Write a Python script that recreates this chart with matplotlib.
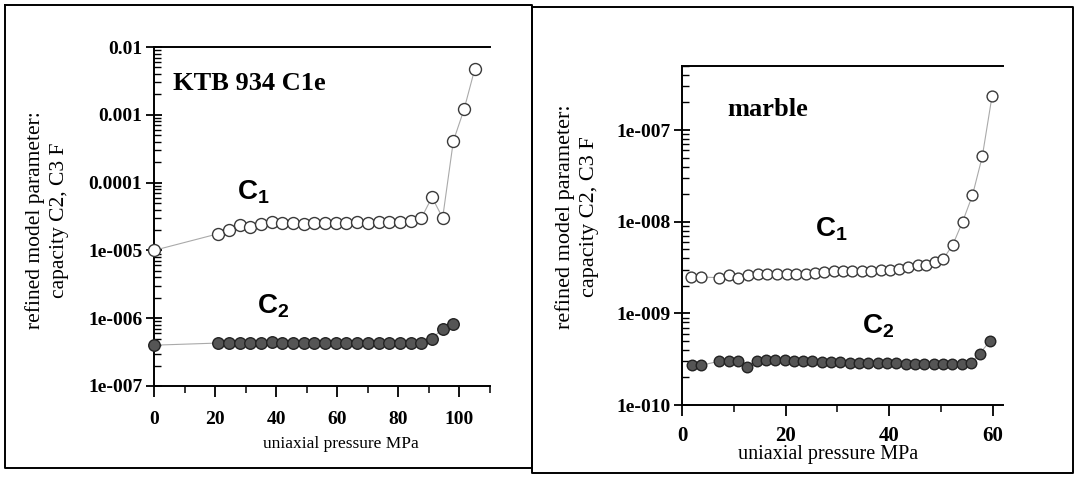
import numpy as np
import matplotlib
matplotlib.use("Agg")
import matplotlib.pyplot as plt
from matplotlib.ticker import LogLocator, NullFormatter, MultipleLocator
from matplotlib.lines import Line2D

# ---------------- data ----------------
# Left panel: KTB 934 C1e
ktb_c1_x = [0, 21, 24.5, 28, 31.5, 35, 38.5, 42, 45.5, 49, 52.5, 56, 59.5, 63, 66.5,
            70, 73.5, 77, 80.5, 84, 87.5, 91, 94.5, 98, 101.5, 105]
ktb_c1_y = [1.0e-5, 1.76e-5, 2.02e-5, 2.33e-5, 2.25e-5, 2.47e-5, 2.61e-5, 2.52e-5, 2.52e-5,
            2.47e-5, 2.52e-5, 2.52e-5, 2.55e-5, 2.55e-5, 2.61e-5, 2.55e-5, 2.61e-5, 2.61e-5,
            2.61e-5, 2.67e-5, 2.98e-5, 6.08e-5, 3.02e-5, 4.1e-4, 1.2e-3, 4.7e-3]
ktb_c2_x = [0, 21, 24.5, 28, 31.5, 35, 38.5, 42, 45.5, 49, 52.5, 56, 59.5, 63, 66.5,
            70, 73.5, 77, 80.5, 84, 87.5, 91, 94.5, 98]
ktb_c2_y = [4.0e-7, 4.3e-7, 4.3e-7, 4.35e-7, 4.35e-7, 4.35e-7, 4.4e-7, 4.35e-7, 4.35e-7,
            4.35e-7, 4.35e-7, 4.35e-7, 4.35e-7, 4.35e-7, 4.35e-7, 4.35e-7, 4.35e-7, 4.35e-7,
            4.35e-7, 4.3e-7, 4.3e-7, 5.0e-7, 7.0e-7, 8.2e-7]

# Right panel: marble
mar_c1_x = [1.7, 3.7, 7.2, 9.1, 10.9, 12.8, 14.7, 16.5, 18.4, 20.2, 22.0, 23.9, 25.7, 27.5,
            29.3, 31.1, 32.9, 34.7, 36.5, 38.4, 40.2, 42.0, 43.7, 45.5, 47.2, 48.8, 50.5,
            52.3, 54.2, 56.1, 58.0, 59.9]
mar_c1_y = [2.49e-9, 2.49e-9, 2.45e-9, 2.6e-9, 2.45e-9, 2.6e-9, 2.66e-9, 2.66e-9, 2.66e-9,
            2.66e-9, 2.66e-9, 2.71e-9, 2.75e-9, 2.82e-9, 2.89e-9, 2.89e-9, 2.89e-9, 2.89e-9,
            2.89e-9, 2.94e-9, 2.94e-9, 3.07e-9, 3.2e-9, 3.34e-9, 3.34e-9, 3.63e-9, 3.95e-9,
            5.6e-9, 1.0e-8, 1.94e-8, 5.15e-8, 2.38e-7]
mar_c2_x = [1.9, 3.6, 7.2, 9.0, 10.8, 12.6, 14.4, 16.2, 18.0, 19.8, 21.6, 23.4, 25.2, 27.0,
            28.8, 30.6, 32.4, 34.2, 36.0, 37.8, 39.6, 41.4, 43.2, 45.0, 46.8, 48.6, 50.4,
            52.2, 54.0, 55.8, 57.5, 59.5]
mar_c2_y = [2.71e-10, 2.71e-10, 3.0e-10, 3.0e-10, 3.05e-10, 2.6e-10, 3.05e-10, 3.07e-10,
            3.07e-10, 3.07e-10, 3.05e-10, 3.0e-10, 3.0e-10, 2.98e-10, 2.95e-10, 2.93e-10,
            2.9e-10, 2.9e-10, 2.88e-10, 2.88e-10, 2.85e-10, 2.85e-10, 2.83e-10, 2.83e-10,
            2.8e-10, 2.8e-10, 2.8e-10, 2.78e-10, 2.78e-10, 2.87e-10, 3.63e-10, 5.0e-10]

left_xticks = [0, 20, 40, 60, 80, 100]
left_xlabels = ["0", "20", "40", "60", "80", "100"]
left_yticks = [1e-7, 1e-6, 1e-5, 1e-4, 1e-3, 1e-2]
left_ylabels = ["1e-007", "1e-006", "1e-005", "0.0001", "0.001", "0.01"]
right_xticks = [0, 20, 40, 60]
right_xlabels = ["0", "20", "40", "60"]
right_yticks = [1e-10, 1e-9, 1e-8, 1e-7]
right_ylabels = ["1e-010", "1e-009", "1e-008", "1e-007"]

xlabel_text = "uniaxial pressure MPa"
ylabel_text = "refined model parameter:\ncapacity C2, C3 F"

# ---------------- figure ----------------
plt.rcParams["mathtext.fontset"] = "custom"
plt.rcParams["mathtext.bf"] = "Liberation Sans:bold"
plt.rcParams["mathtext.rm"] = "Liberation Sans"

W, H = 1077, 478
fig = plt.figure(figsize=(W / 100, H / 100), dpi=100)
fig.patch.set_facecolor("white")

def rect(l, t, r, b):
    return [l / W, 1 - b / H, (r - l) / W, (b - t) / H]

def fx(px):
    return px / W

def fy(py):
    return 1 - py / H

SERIF = "Liberation Serif"

def style_axes(ax, xt, xl, yt, yl, xlim, ylim, xminor, xtick_size, ytick_size, xpad):
    ax.set_yscale("log")
    ax.set_xlim(*xlim)
    ax.set_ylim(*ylim)
    ax.spines["right"].set_visible(False)
    for s in ["left", "bottom", "top"]:
        ax.spines[s].set_linewidth(1.4)
    ax.set_xticks(xt, xl, fontfamily=SERIF, fontweight="bold", fontsize=xtick_size)
    ax.set_yticks(yt, yl, fontfamily=SERIF, fontweight="bold", fontsize=ytick_size)
    ax.xaxis.set_minor_locator(MultipleLocator(xminor))
    ax.yaxis.set_minor_locator(LogLocator(base=10, subs=np.arange(2, 10), numticks=30))
    ax.yaxis.set_minor_formatter(NullFormatter())
    ax.tick_params(axis="x", which="major", direction="out", length=8, width=1.3, pad=xpad)
    ax.tick_params(axis="x", which="minor", direction="out", length=5, width=1.1)
    ax.tick_params(axis="y", which="major", direction="inout", length=11, width=1.3, pad=3)
    ax.tick_params(axis="y", which="minor", direction="in", length=5, width=1.0)
    ax.tick_params(top=False, right=False, which="both")

open_kw = dict(marker="o", mfc="white", mec="#3a3a3a", mew=1.0, color="#aaaaaa",
               lw=0.8, clip_on=False, zorder=3)
fill_kw = dict(marker="o", mfc="#555555", mec="#222222", mew=1.0, color="#aaaaaa",
               lw=0.8, clip_on=False, zorder=3)

# Left axes
ax1 = fig.add_axes(rect(154, 47, 490, 386))
style_axes(ax1, left_xticks, left_xlabels, left_yticks, left_ylabels,
           (0, 110), (1e-7, 1e-2), 10, 14, 14, 10)
ax1.plot(ktb_c1_x, ktb_c1_y, ms=8.6, **open_kw)
ax1.plot(ktb_c2_x, ktb_c2_y, ms=8.3, **fill_kw)

# Right axes
ax2 = fig.add_axes(rect(682, 66, 1003, 405))
style_axes(ax2, right_xticks, right_xlabels, right_yticks, right_ylabels,
           (0, 62), (1e-10, 5e-7), 10, 15, 14, 7)
ax2.plot(mar_c1_x, mar_c1_y, ms=7.8, **open_kw)
ax2.plot(mar_c2_x, mar_c2_y, ms=7.6, **fill_kw)

# Titles inside the plots
fig.text(fx(173), fy(90), "KTB 934 C1e", fontfamily=SERIF, fontweight="bold",
         fontsize=19, va="baseline", ha="left")
fig.text(fx(727), fy(116), "marble", fontfamily=SERIF, fontweight="bold",
         fontsize=19, va="baseline", ha="left")

# Series labels
fig.text(fx(237), fy(200), r"$\mathbf{C_1}$", fontsize=20, va="baseline", ha="left")
fig.text(fx(257), fy(313), r"$\mathbf{C_2}$", fontsize=20, va="baseline", ha="left")
fig.text(fx(815), fy(236), r"$\mathbf{C_1}$", fontsize=20, va="baseline", ha="left")
fig.text(fx(862), fy(333), r"$\mathbf{C_2}$", fontsize=20, va="baseline", ha="left")

# Axis labels
fig.text(fx(341), fy(444), xlabel_text, fontfamily=SERIF, fontsize=12.5,
         ha="center", va="center")
fig.text(fx(828), fy(455), xlabel_text, fontfamily=SERIF, fontsize=14.5,
         ha="center", va="center")
fig.text(fx(47), fy(220), ylabel_text, fontfamily=SERIF, fontsize=15.5, rotation=90,
         ha="center", va="center", linespacing=1.35, multialignment="center")
fig.text(fx(577), fy(217), ylabel_text, fontfamily=SERIF, fontsize=16, rotation=90,
         ha="center", va="center", linespacing=1.35, multialignment="center")

# Panel frames
def frame(l, t, r, b):
    xs = [fx(l), fx(r), fx(r), fx(l), fx(l)]
    ys = [fy(t), fy(t), fy(b), fy(b), fy(t)]
    fig.add_artist(Line2D(xs, ys, color="black", lw=1.4, transform=fig.transFigure))

frame(5, 5, 532, 468)
frame(532, 7, 1073, 473)

fig.savefig("out.png", dpi=100, facecolor="white")
